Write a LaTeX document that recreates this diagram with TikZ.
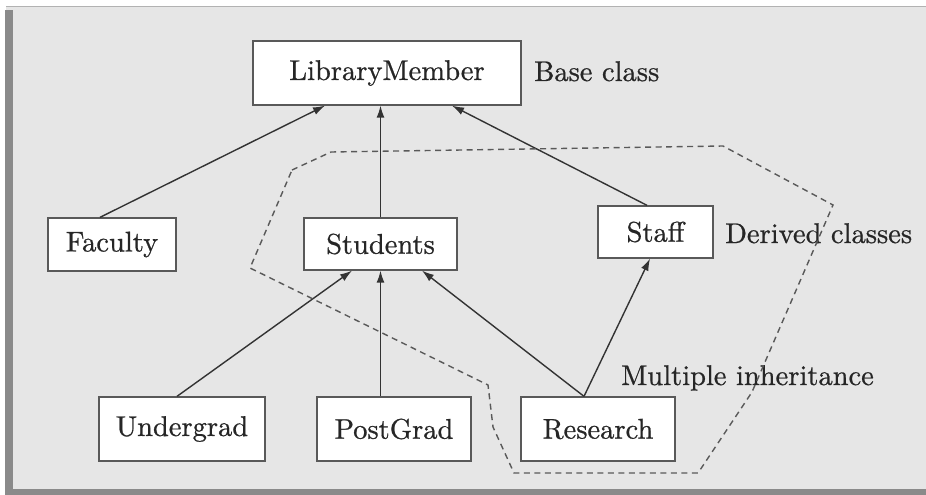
\documentclass[tikz,border=0pt]{standalone}
\usepackage{fontspec}
\newfontfamily\boxfont{lmroman10-regular.otf}[FakeBold=0.7]
\usetikzlibrary{arrows.meta}
\definecolor{panel}{HTML}{E6E6E6}
\definecolor{edgegray}{HTML}{8A8A8A}
\definecolor{linegray}{HTML}{333333}
\begin{document}
\begin{tikzpicture}[x=1pt,y=-1pt,
  cls/.style={draw=black!65,line width=1.3pt,fill=white,inner sep=0pt,
    font=\boxfont\fontsize{28.5}{32}\selectfont,text=black!85},
  lbl/.style={anchor=base west,inner sep=0pt,font=\boxfont\fontsize{28.5}{32}\selectfont,text=black!85},
  inh/.style={draw=linegray,line width=1.4pt,-{Latex[length=12pt,width=8pt]}},
  outline/.style={draw=black!65,line width=1.4pt,dash pattern=on 6pt off 4.5pt}]
\useasboundingbox (0,0) rectangle (926,495);
\fill[white] (0,0) rectangle (926,495);
\fill[panel] (6,6) rectangle (926,495);
\draw[black!30,line width=1pt] (6,6.5) -- (926,6.5);
\fill[edgegray] (5,10) rectangle (13,495);
\fill[edgegray] (5,489) rectangle (926,495);

\node[cls,minimum width=268pt,minimum height=64pt] (lm) at (387,73) {LibraryMember};
\node[cls,minimum width=128pt,minimum height=53pt] (fac) at (112,244.5) {Faculty};
\node[cls,minimum width=153pt,minimum height=52pt] (stu) at (380.5,244) {Students};
\node[cls,minimum width=115pt,minimum height=52pt] (stf) at (655.5,232) {Staff};
\node[cls,minimum width=166pt,minimum height=64pt] (ug) at (182,429) {Undergrad};
\node[cls,minimum width=154pt,minimum height=64pt] (pg) at (394,429) {PostGrad};
\node[cls,minimum width=154pt,minimum height=64pt] (res) at (598,429) {Research};

\node[lbl] (base) at (534,81) {Base class};
\node[lbl] (der) at (725,243) {Derived classes};
\node[lbl] (mult) at (621,385) {Multiple inheritance};

\draw[inh] ([xshift=-12pt]fac.north) -- ([xshift=-62pt]lm.south);
\draw[inh] (stu.north) -- (stu.north |- lm.south);
\draw[inh] ([xshift=-8.5pt]stf.north) -- ([xshift=65pt]lm.south);
\draw[inh] ([xshift=-5pt]ug.north) -- ([xshift=-28.5pt]stu.south);
\draw[inh] (stu.south |- pg.north) -- (stu.south);
\draw[inh] ([xshift=-14pt]res.north) -- ([xshift=41.5pt]stu.south);
\draw[inh] ([xshift=-14pt]res.north) -- ([xshift=-5.5pt]stf.south);

\draw[outline] (292,170) -- (331,152) -- (723,146) -- (833,205) -- (752,392)
  -- (698,473) -- (514,473) -- (493,427) -- (488,385) -- (250,268) -- cycle;
\end{tikzpicture}
\end{document}
